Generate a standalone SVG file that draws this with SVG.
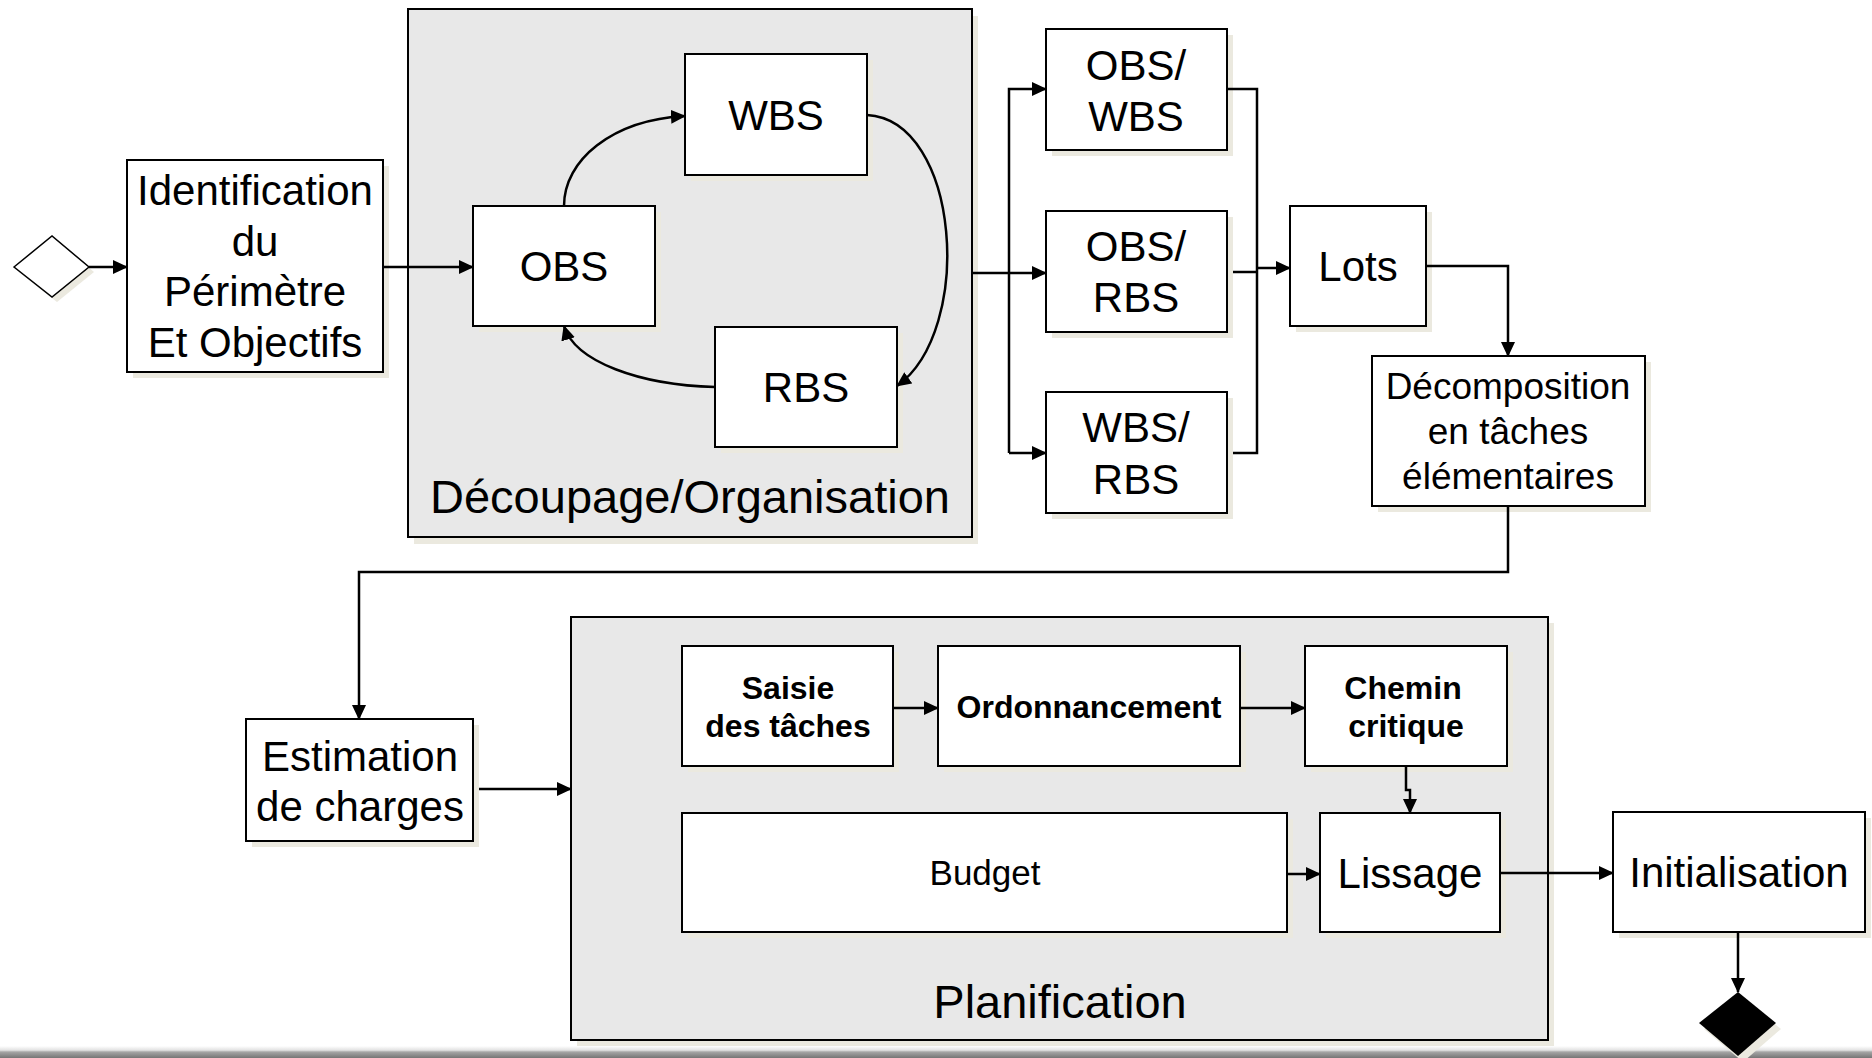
<svg xmlns="http://www.w3.org/2000/svg" width="1872" height="1058" viewBox="0 0 1872 1058">
<defs>
<style>
.box{fill:#fff;stroke:#000;stroke-width:2}
.cont{fill:#e8e8e8;stroke:#000;stroke-width:2}
.sh{fill:#ebe9df}
.t{font-family:"Liberation Sans",Arial,sans-serif;font-size:42px;fill:#000;text-anchor:middle}
.tl{font-family:"Liberation Sans",Arial,sans-serif;font-size:47px;fill:#000;text-anchor:middle}
.tm{font-family:"Liberation Sans",Arial,sans-serif;font-size:37px;fill:#000;text-anchor:middle}
.tb{font-family:"Liberation Sans",Arial,sans-serif;font-size:32px;font-weight:bold;fill:#000;text-anchor:middle}
.ts{font-family:"Liberation Sans",Arial,sans-serif;font-size:35px;fill:#000;text-anchor:middle}
.c{fill:none;stroke:#000;stroke-width:2.5}
.a{marker-end:url(#arr)}
</style>
<marker id="arr" markerWidth="15" markerHeight="14" refX="14" refY="7" orient="auto" markerUnits="userSpaceOnUse"><path d="M0,0 L15,7 L0,14 z" fill="#000"/></marker>
<linearGradient id="bar" x1="0" y1="0" x2="0" y2="1">
<stop offset="0" stop-color="#ffffff"/>
<stop offset="0.35" stop-color="#e2e2e2"/>
<stop offset="0.5" stop-color="#a5a5a5"/>
<stop offset="1" stop-color="#767676"/>
</linearGradient>
</defs>
<rect width="1872" height="1058" fill="#fff"/>
<rect x="0" y="1046" width="1872" height="12" fill="url(#bar)"/>

<g id="container-decoupage">
<rect class="sh" x="414" y="16" width="564" height="528"/>
<rect class="cont" x="408" y="9" width="564" height="528"/>
<text class="tl" x="690" y="513">Découpage/Organisation</text>
</g>
<g id="container-planification">
<rect class="sh" x="577" y="623" width="977" height="423"/>
<rect class="cont" x="571" y="617" width="977" height="423"/>
<text class="tl" x="1060" y="1018">Planification</text>
</g>

<g id="start">
<polygon class="sh" points="19,272 57,241 94,272 57,302"/>
<polygon points="14,267 52,236 89,267 52,297" fill="#fff" stroke="#000" stroke-width="1.5"/>
</g>
<g id="end">
<polygon class="sh" points="1743,998 1781,1029 1743,1062 1704,1029"/>
<polygon points="1738,992 1776,1023 1738,1056 1699,1023" fill="#000"/>
</g>

<g id="identification">
<rect class="sh" x="133" y="166" width="256" height="212"/>
<rect class="box" x="127" y="160" width="256" height="212"/>
<text class="t" x="255" y="205">Identification</text>
<text class="t" x="255" y="256">du</text>
<text class="t" x="255" y="306">Périmètre</text>
<text class="t" x="255" y="357">Et Objectifs</text>
</g>
<g id="obs">
<rect class="sh" x="479" y="212" width="182" height="120"/>
<rect class="box" x="473" y="206" width="182" height="120"/>
<text class="t" x="564" y="281">OBS</text>
</g>
<g id="wbs">
<rect class="sh" x="691" y="60" width="182" height="121"/>
<rect class="box" x="685" y="54" width="182" height="121"/>
<text class="t" x="776" y="130">WBS</text>
</g>
<g id="rbs">
<rect class="sh" x="721" y="333" width="182" height="120"/>
<rect class="box" x="715" y="327" width="182" height="120"/>
<text class="t" x="806" y="402">RBS</text>
</g>
<g id="obs-wbs">
<rect class="sh" x="1052" y="35" width="181" height="121"/>
<rect class="box" x="1046" y="29" width="181" height="121"/>
<text class="t" x="1136" y="80">OBS/</text>
<text class="t" x="1136" y="131">WBS</text>
</g>
<g id="obs-rbs">
<rect class="sh" x="1052" y="217" width="181" height="121"/>
<rect class="box" x="1046" y="211" width="181" height="121"/>
<text class="t" x="1136" y="261">OBS/</text>
<text class="t" x="1136" y="312">RBS</text>
</g>
<g id="wbs-rbs">
<rect class="sh" x="1052" y="398" width="181" height="121"/>
<rect class="box" x="1046" y="392" width="181" height="121"/>
<text class="t" x="1136" y="442">WBS/</text>
<text class="t" x="1136" y="494">RBS</text>
</g>
<g id="lots">
<rect class="sh" x="1296" y="212" width="136" height="120"/>
<rect class="box" x="1290" y="206" width="136" height="120"/>
<text class="t" x="1358" y="281">Lots</text>
</g>
<g id="decomposition">
<rect class="sh" x="1378" y="362" width="273" height="150"/>
<rect class="box" x="1372" y="356" width="273" height="150"/>
<text class="tm" x="1508" y="399">Décomposition</text>
<text class="tm" x="1508" y="444">en tâches</text>
<text class="tm" x="1508" y="489">élémentaires</text>
</g>
<g id="estimation">
<rect class="sh" x="252" y="725" width="227" height="122"/>
<rect class="box" x="246" y="719" width="227" height="122"/>
<text class="t" x="360" y="771">Estimation</text>
<text class="t" x="360" y="821">de charges</text>
</g>
<g id="saisie">
<rect class="sh" x="688" y="652" width="211" height="120"/>
<rect class="box" x="682" y="646" width="211" height="120"/>
<text class="tb" x="788" y="699">Saisie</text>
<text class="tb" x="788" y="737">des tâches</text>
</g>
<g id="ordonnancement">
<rect class="sh" x="944" y="652" width="302" height="120"/>
<rect class="box" x="938" y="646" width="302" height="120"/>
<text class="tb" x="1089" y="718">Ordonnancement</text>
</g>
<g id="chemin">
<rect class="sh" x="1311" y="652" width="202" height="120"/>
<rect class="box" x="1305" y="646" width="202" height="120"/>
<text class="tb" x="1403" y="699">Chemin</text>
<text class="tb" x="1406" y="737">critique</text>
</g>
<g id="budget">
<rect class="sh" x="688" y="819" width="605" height="119"/>
<rect class="box" x="682" y="813" width="605" height="119"/>
<text class="ts" x="985" y="885">Budget</text>
</g>
<g id="lissage">
<rect class="sh" x="1326" y="819" width="180" height="119"/>
<rect class="box" x="1320" y="813" width="180" height="119"/>
<text class="t" x="1410" y="888">Lissage</text>
</g>
<g id="initialisation">
<rect class="sh" x="1619" y="818" width="252" height="120"/>
<rect class="box" x="1613" y="812" width="252" height="120"/>
<text class="t" x="1739" y="887">Initialisation</text>
</g>

<g id="connectors">
<path class="c a" d="M89,267 H127"/>
<path class="c a" d="M383,267 H473"/>
<path class="c a" d="M564,206 C564,160 612,120 685,116"/>
<path class="c a" d="M867,115 C960,120 975,330 897,386"/>
<path class="c a" d="M715,387 C640,385 575,362 564,326"/>
<path class="c" d="M972,273 H1009"/>
<path class="c a" d="M1009,453 V89 H1046"/>
<path class="c a" d="M1009,273 H1046"/>
<path class="c a" d="M1009,453 H1046"/>
<path class="c" d="M1228,89 H1257 V453 H1233"/>
<path class="c" d="M1233,272 H1257"/>
<path class="c a" d="M1257,268 H1290"/>
<path class="c a" d="M1427,266 H1508 V356"/>
<path class="c a" d="M1508,506 V572 H359 V719"/>
<path class="c a" d="M479,789 H571"/>
<path class="c a" d="M893,708 H938"/>
<path class="c a" d="M1240,708 H1305"/>
<path class="c a" d="M1406,767 V790 H1410 V813"/>
<path class="c a" d="M1287,874 H1320"/>
<path class="c a" d="M1500,873 H1613"/>
<path class="c a" d="M1738,932 V992"/>
</g>
</svg>
